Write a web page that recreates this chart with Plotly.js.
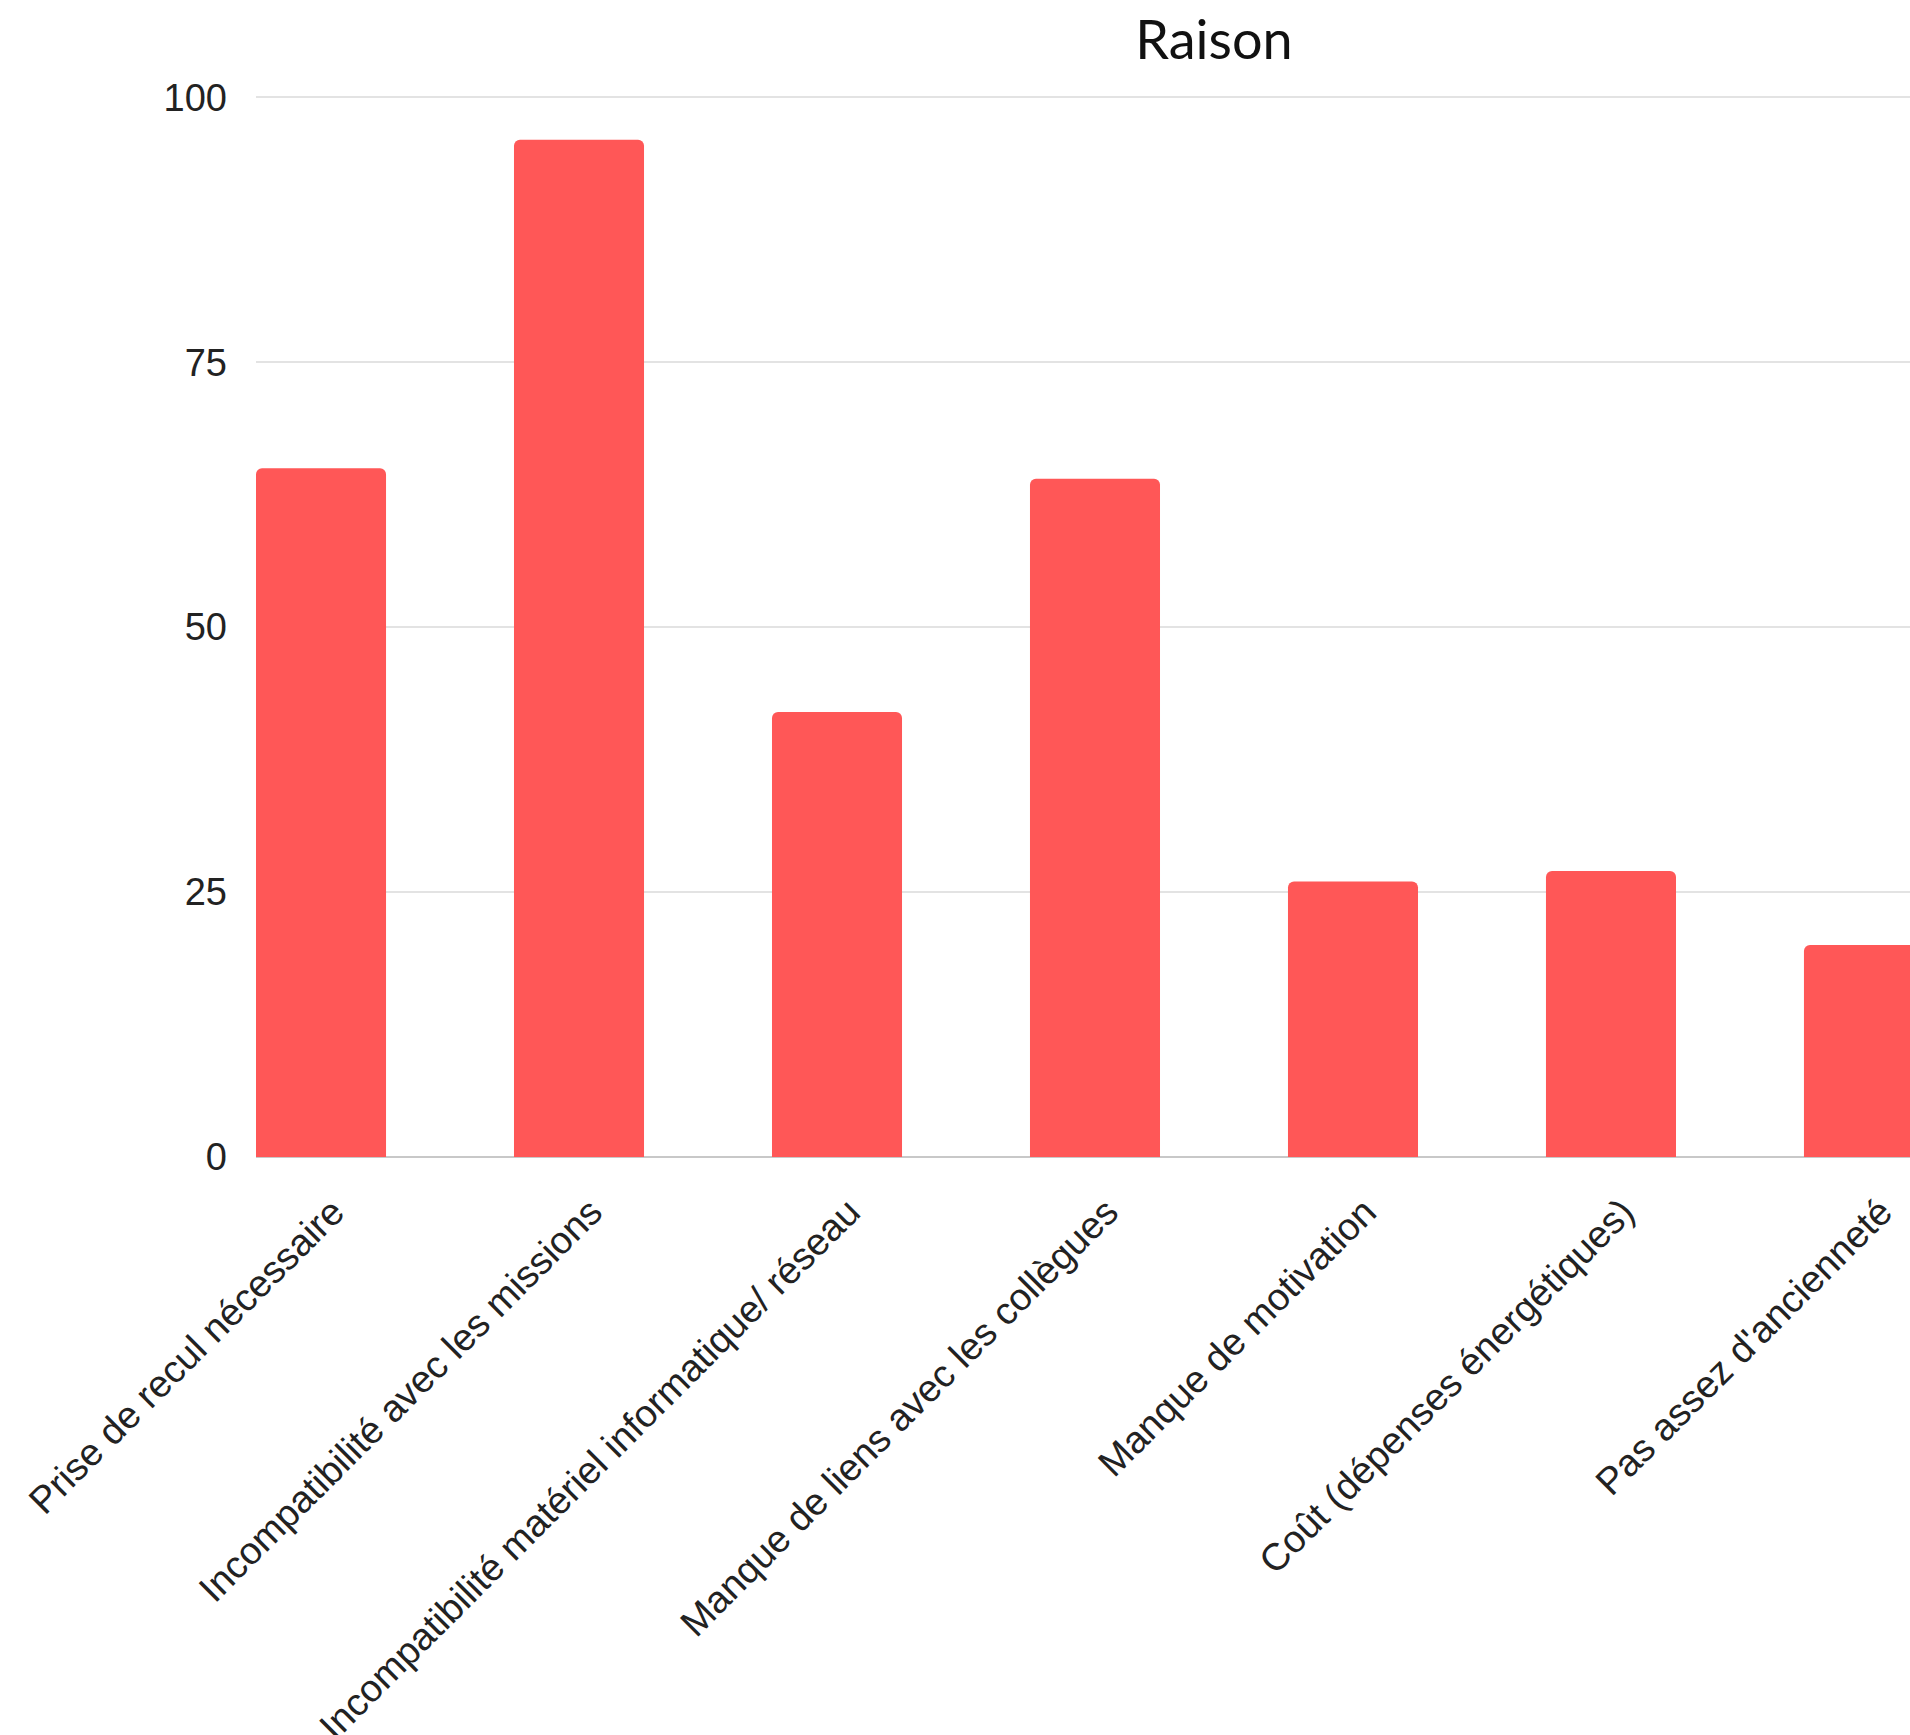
<!DOCTYPE html>
<html>
<head>
<meta charset="utf-8">
<script src="https://cdn.plot.ly/plotly-3.0.1.min.js"></script>
<style>
  html, body { margin: 0; padding: 0; background: #ffffff; }
  #chart { width: 1910px; height: 1735px; }
</style>
</head>
<body>
<div id="chart"></div>
<script>
const categories = [
  "Prise de recul nécessaire",
  "Incompatibilité avec les missions",
  "Incompatibilité matériel informatique/ réseau",
  "Manque de liens avec les collègues",
  "Manque de motivation",
  "Coût (dépenses énergétiques)",
  "Pas assez d'ancienneté"
];
const values = [65, 96, 42, 64, 26, 27, 20];
const yTicks = [0, 25, 50, 75, 100];
const chartTitle = "Raison";

const trace = {
  type: "bar",
  x: categories,
  y: values,
  marker: { color: "#FF5757", cornerradius: 6, line: { width: 0 } },
  hoverinfo: "x+y"
};

const layout = {
  width: 1910,
  height: 1735,
  paper_bgcolor: "#ffffff",
  plot_bgcolor: "#ffffff",
  margin: { l: 256, r: 0, t: 92, b: 578, pad: 0 },
  showlegend: false,
  bargap: 0.496,
  font: { family: "Liberation Sans, Arial, sans-serif", color: "#222222", size: 36 },
  title: {
    text: chartTitle,
    font: { family: "Lato, Open Sans, sans-serif", size: 54, color: "#111111" },
    xref: "container", x: 0.6356, xanchor: "center",
    yref: "container", y: 1 - 40 / 1735, yanchor: "middle"
  },
  xaxis: {
    type: "category",
    range: [-0.252, 6.159],
    tickangle: -45,
    showgrid: false,
    showline: false,
    zeroline: false,
    ticks: "",
    ticklabelstandoff: 24,
    ticklabelshift: 12,
    tickfont: { family: "Liberation Sans, Arial, sans-serif", size: 38, color: "#222222" },
    automargin: false,
    fixedrange: true
  },
  yaxis: {
    range: [0, 100.5],
    tickvals: yTicks,
    ticktext: yTicks.map(String),
    showgrid: true,
    gridcolor: "#e3e3e3",
    gridwidth: 2,
    zeroline: true,
    zerolinecolor: "#c8c8c8",
    zerolinewidth: 2,
    showline: false,
    ticks: "",
    ticklabelstandoff: 28,
    tickfont: { family: "Liberation Sans, Arial, sans-serif", size: 38, color: "#222222" },
    automargin: false,
    fixedrange: true
  }
};

Plotly.newPlot("chart", [trace], layout, { displayModeBar: false, staticPlot: true });
</script>
</body>
</html>
